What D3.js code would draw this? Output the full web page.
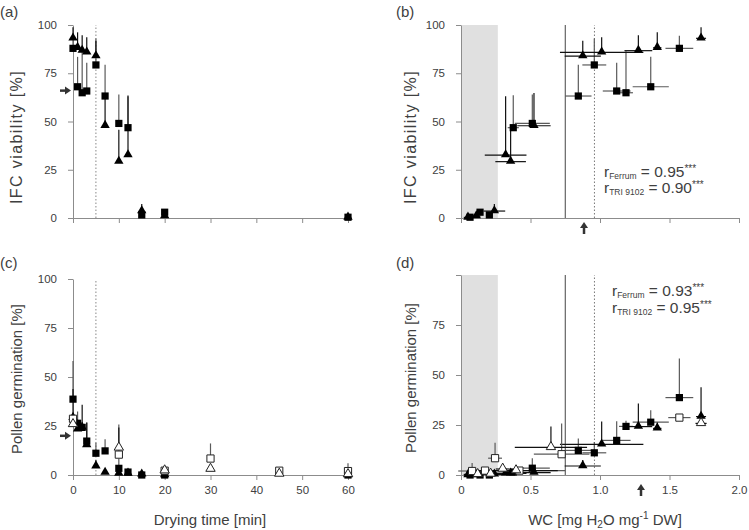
<!DOCTYPE html>
<html><head><meta charset="utf-8">
<script src="https://cdn.jsdelivr.net/npm/d3@7"></script>
<style>
body{margin:0;background:#fff}
text{font-family:"Liberation Sans",Arial,sans-serif;fill:#404040}
</style>
</head><body>
<svg id="chart" width="749" height="530"></svg>
<script>
// ---------- DATA ----------
const dryingTimes = [0,1,2,3,5,7,10,12,15,20,60];
// IFC viability [%] (filled squares = Ferrum, filled triangles = TRI 9102), upper SD
const ifcFerrum   = [87.9,68,64.9,65.8,79.3,63.2,49,46.8,1.6,3,0.4];
const ifcFerrumSD = [6.5,15.5,21.5,14.7,13.7,16.2,15,16.8,1.2,1.5,0.6];
const ifcTri      = [93.1,88.2,86.7,85.8,83.9,47.8,29.2,32.6,3.6,1,0.3];
const ifcTriSD    = [5.7,8,8,7.8,8,17,16.5,30.5,3.7,0.5,0];
// Water content [mg H2O mg-1 DW] with SD
const wcFerrum   = [1.571,1.365,1.187,1.12,0.959,0.844,0.513,0.376,0.204,0.137,0.065];
const wcFerrumSD = [0.1,0.13,0.05,0.1,0.086,0.095,0.126,0.04,0.02,0.02,0.02];
const wcTri      = [1.727,1.412,1.276,1.012,0.876,0.525,0.357,0.321,0.24,0.11,0.05];
const wcTriSD    = [0.036,0.03,0.1,0.3,0.13,0.12,0.11,0.15,0.078,0.03,0.03];
// Pollen germination [%] (filled markers)
const germFerrum   = [38.7,26.4,24.3,17.3,11.1,12.3,3.4,1.5,0,0,0];
const germFerrumSD = [19.5,6,2.8,9.6,5.4,6,5,0.5,0,0,0];
const germTri      = [29.2,23.3,24.2,15.3,4.5,1.2,0.8,0.8,0.3,0,0];
const germTriSD    = [14.7,3,11.6,11.4,3,0,0,0,0,0,0];
// Open markers series
const openTimes          = [0,10,20,30,45,60];
const germFerrumOpen     = [28.7,10.4,2.2,8.4,2.2,2];
const germFerrumOpenSD   = [0,15.4,0.5,7.7,1.8,4];
const germTriOpen        = [25.8,13.8,2.2,3,0.5,0.3];
const germTriOpenSD      = [0,10.4,0,0,0,0];
const wcFerrumOpen       = [1.571,0.724,0.42,0.245,0.173,0.08];
const wcFerrumOpenSD     = [0.08,0.2,0.33,0.05,0.05,0.1];
const wcTriOpen          = [1.727,0.647,0.396,0.3,0.213,0.12];
const wcTriOpenSD        = [0.04,0.26,0.3,0.05,0.05,0.1];
// Reference marks
const dottedTime = 5;
const shadeWC = [0, 0.265];
const solidWC = 0.75;
const dottedWC = 0.96;
const arrowIFC = 66, arrowGerm = 20, arrowWcB = 0.885, arrowWcD = 1.295;
const yTicks = [0,25,50,75,100];
const timeTicks = [0,10,20,30,40,50,60];
const wcTicks = [0,0.5,1.0,1.5,2.0];
const corrB = [["Ferrum","0.95"],["TRI 9102","0.90"]];
const corrD = [["Ferrum","0.93"],["TRI 9102","0.95"]];

// ---------- DRAW ----------
const svg = d3.select("#chart");
const AX = "#8c8c8c";
const sqSym = d3.symbol().type(d3.symbolSquare).size(52);
const trSym = d3.symbol().type(d3.symbolTriangle).size(38);

const xa = d3.scaleLinear().domain([0,60]).range([73,348]);
const ya = d3.scaleLinear().domain([0,100]).range([218,25]);
const xb = d3.scaleLinear().domain([0,2]).range([461,739]);
const yb = d3.scaleLinear().domain([0,100]).range([218,25]);
const xc = d3.scaleLinear().domain([0,60]).range([73,348]);
const yc = d3.scaleLinear().domain([0,100]).range([475,279]);
const xd = d3.scaleLinear().domain([0,2]).range([461,739]);
const yd = d3.scaleLinear().domain([0,100]).range([475,275]);

function axes(x, y, xTickVals, xFmt, yFmt){
  const gx = svg.append("g").attr("transform",`translate(0,${y(0)})`)
    .call(d3.axisBottom(x).tickValues(xTickVals).tickSize(5).tickSizeOuter(0).tickPadding(6).tickFormat(xFmt));
  const gy = svg.append("g").attr("transform",`translate(${x(0)},0)`)
    .call(d3.axisLeft(y).tickValues(yTicks).tickSize(5).tickSizeOuter(0).tickPadding(11).tickFormat(yFmt));
  [gx,gy].forEach(g=>{
    g.selectAll("path.domain").attr("stroke",AX);
    g.selectAll(".tick line").attr("stroke",AX);
    g.selectAll(".tick text").style("font-size","11.5px").attr("fill","#404040");
  });
}

function series(x, y, xs, ys, ysd, xsd, kind, open){
  const col = kind==="sq" ? "#5a5a5a" : "#111";
  const g = svg.append("g");
  xs.forEach((xv,i)=>{
    if(ysd && ysd[i]>0){
      g.append("line").attr("x1",x(xv)).attr("x2",x(xv))
        .attr("y1",y(ys[i])).attr("y2",y(ys[i]+ysd[i]))
        .attr("stroke",col).attr("stroke-width",1.2);
    }
    if(xsd && xsd[i]>0){
      g.append("line").attr("x1",x(xv-xsd[i])).attr("x2",x(xv+xsd[i]))
        .attr("y1",y(ys[i])).attr("y2",y(ys[i]))
        .attr("stroke",col).attr("stroke-width",1.2);
    }
  });
  return ()=>{
    const m = svg.append("g");
    xs.forEach((xv,i)=>{
      m.append("path").attr("d", kind==="sq"?sqSym():trSym())
        .attr("transform",`translate(${x(xv)},${y(ys[i]) + (kind==="tr"?-0.5:0)})`)
        .attr("fill", open?"#fff":"#000")
        .attr("stroke", open?"#222":"none").attr("stroke-width",1);
    });
  };
}

function vline(x, y, v, dash, col){
  svg.append("line").attr("x1",x(v)).attr("x2",x(v)).attr("y1",y(0)).attr("y2",y(100))
    .attr("stroke",col).attr("stroke-width",1).attr("stroke-dasharray",dash);
}

function arrowRight(xTip, yv){
  svg.append("line").attr("x1",xTip-11).attr("x2",xTip-5).attr("y1",yv).attr("y2",yv)
    .attr("stroke","#333").attr("stroke-width",2.5);
  svg.append("path").attr("d",`M${xTip},${yv} L${xTip-6},${yv-4} L${xTip-6},${yv+4} Z`).attr("fill","#333");
}
function arrowUp(xv, yTip){
  svg.append("line").attr("x1",xv).attr("x2",xv).attr("y1",yTip+5).attr("y2",yTip+12)
    .attr("stroke","#333").attr("stroke-width",2.5);
  svg.append("path").attr("d",`M${xv},${yTip} L${xv-4},${yTip+6} L${xv+4},${yTip+6} Z`).attr("fill","#333");
}

function corrText(x0, y0, lines, gap){
  lines.forEach((l,i)=>{
    const t = svg.append("text").attr("x",x0).attr("y",y0+i*gap).style("font-size","15.5px");
    t.append("tspan").text("r");
    t.append("tspan").text(l[0]).style("font-size","8.5px").attr("dy",1.5);
    t.append("tspan").text(" = "+l[1]).style("font-size","15.5px").attr("dy",-1.5);
    t.append("tspan").text("***").style("font-size","10px").attr("dy",-5);
  });
}

function ytitle(xc_, yc_, txt, ls){
  svg.append("text").attr("transform",`translate(${xc_},${yc_}) rotate(-90)`)
    .attr("text-anchor","middle").attr("dominant-baseline","central")
    .style("font-size", ls ? "16px" : "15px").style("letter-spacing", ls ? ls+"px" : null).text(txt);
}

// ---- Panel (a) ----
vline(xa, ya, dottedTime, "1.5,2", "#888");
axes(xa, ya, timeTicks, ()=>"", d=>d);
let dA1 = series(xa, ya, dryingTimes, ifcFerrum, ifcFerrumSD, null, "sq", false);
let dA2 = series(xa, ya, dryingTimes, ifcTri, ifcTriSD, null, "tr", false);
dA1(); dA2();
arrowRight(71, ya(arrowIFC));

// ---- Panel (b) ----
svg.append("rect").attr("x",xb(shadeWC[0])).attr("width",xb(shadeWC[1])-xb(shadeWC[0]))
  .attr("y",yb(100)).attr("height",yb(0)-yb(100)).attr("fill","#e0e0e0");
vline(xb, yb, solidWC, null, "#444");
vline(xb, yb, dottedWC, "1.5,2", "#777");
axes(xb, yb, wcTicks, ()=>"", d=>d);
let dB1 = series(xb, yb, wcFerrum, ifcFerrum, ifcFerrumSD, wcFerrumSD, "sq", false);
let dB2 = series(xb, yb, wcTri, ifcTri, ifcTriSD, wcTriSD, "tr", false);
dB1(); dB2();
arrowUp(xb(arrowWcB), 222);
corrText(604, 177, corrB, 16);

// ---- Panel (c) ----
vline(xc, yc, dottedTime, "1.5,2", "#888");
axes(xc, yc, timeTicks, d=>d, d=>d);
let dC1 = series(xc, yc, dryingTimes, germFerrum, germFerrumSD, null, "sq", false);
let dC2 = series(xc, yc, dryingTimes, germTri, germTriSD, null, "tr", false);
let dC3 = series(xc, yc, openTimes, germFerrumOpen, germFerrumOpenSD, null, "sq", true);
let dC4 = series(xc, yc, openTimes, germTriOpen, germTriOpenSD, null, "tr", true);
dC1(); dC2(); dC3(); dC4();
arrowRight(71, yc(arrowGerm));

// ---- Panel (d) ----
svg.append("rect").attr("x",xd(shadeWC[0])).attr("width",xd(shadeWC[1])-xd(shadeWC[0]))
  .attr("y",yd(100)).attr("height",yd(0)-yd(100)).attr("fill","#e0e0e0");
vline(xd, yd, solidWC, null, "#444");
vline(xd, yd, dottedWC, "1.5,2", "#777");
axes(xd, yd, wcTicks, d=>d===0?"0":d3.format(".1f")(d), d=>d===100?"":d);
let dD1 = series(xd, yd, wcFerrum, germFerrum, germFerrumSD, wcFerrumSD, "sq", false);
let dD2 = series(xd, yd, wcTri, germTri, germTriSD, wcTriSD, "tr", false);
let dD3 = series(xd, yd, wcFerrumOpen, germFerrumOpen, germFerrumOpenSD, wcFerrumOpenSD, "sq", true);
let dD4 = series(xd, yd, wcTriOpen, germTriOpen, germTriOpenSD, wcTriOpenSD, "tr", true);
dD1(); dD2(); dD3(); dD4();
arrowUp(xd(arrowWcD), 484);
corrText(612, 296, corrD, 17);

// ---- Titles & labels ----
ytitle(16, 137, "IFC viability [%]", 1.4);
ytitle(410, 137, "IFC viability [%]", 1.4);
ytitle(16, 379, "Pollen germination [%]");
ytitle(410, 378, "Pollen germination [%]");
svg.append("text").attr("x",210).attr("y",525).attr("text-anchor","middle").style("font-size","15px").text("Drying time [min]");
const wt = svg.append("text").attr("x",605).attr("y",525).attr("text-anchor","middle").style("font-size","15px");
wt.append("tspan").text("WC [mg H");
wt.append("tspan").text("2").style("font-size","10px").attr("dy",3);
wt.append("tspan").text("O mg").attr("dy",-3);
wt.append("tspan").text("-1").style("font-size","10px").attr("dy",-6);
wt.append("tspan").text(" DW]").attr("dy",6);
[["(a)",0,17],["(b)",396,17],["(c)",0,268],["(d)",396,268]].forEach(p=>{
  svg.append("text").attr("x",p[1]).attr("y",p[2]).style("font-size","15px").text(p[0]);
});
</script>
</body></html>
